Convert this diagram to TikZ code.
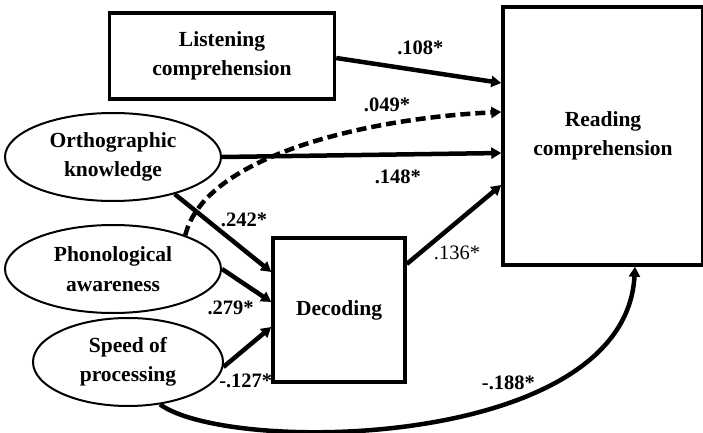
\documentclass[tikz,border=0pt]{standalone}
\usepackage{fontspec}
\setmainfont{Liberation Serif}
\usetikzlibrary{arrows.meta,positioning,shapes.geometric,calc}

\begin{document}
\begin{tikzpicture}[x=1pt, y=-1pt,
  box/.style={rectangle, draw, line width=3.5pt, align=center, font=\bfseries\fontsize{21.5}{29.5}\selectfont},
  latent/.style={ellipse, draw, line width=2pt, minimum width=216pt, minimum height=88pt, inner sep=0pt, align=center, font=\bfseries\fontsize{21.5}{29.5}\selectfont},
  line/.style={draw, line width=4.5pt, -{Triangle[length=10pt, width=11pt]}},
  coef/.style={inner sep=0pt, font=\bfseries\fontsize{20.5}{24}\selectfont},
  coefplain/.style={inner sep=0pt, font=\fontsize{20.5}{24}\selectfont}]

  \useasboundingbox (0,0) rectangle (703,433);

  \node [box, minimum width=225pt, minimum height=86pt] (listen) at (222,56) {Listening\\comprehension};
  \node [latent] (ortho) at (113,157) {Orthographic\\knowledge};
  \node [latent, below=22pt of ortho] (phono) {Phonological\\awareness};
  \node [latent, minimum width=190pt, below=3pt of phono, xshift=15pt] (speed) {Speed of\\processing};
  \node [box, minimum width=132pt, minimum height=144pt] (decode) at (339,310) {Decoding};
  \node [box, minimum width=200pt, minimum height=258pt] (reading) at (603,136) {Reading\\comprehension};

  % entry points on the outcome boxes
  \coordinate (r1) at ([yshift=53pt]reading.west);
  \coordinate (r2) at ([yshift=24pt]reading.west);
  \coordinate (r3) at ([yshift=-17pt]reading.west);
  \coordinate (r4) at ([yshift=-49pt]reading.west);
  \coordinate (r5) at ([xshift=32pt]reading.south);
  \coordinate (d1) at ([yshift=38pt]decode.west);
  \coordinate (d2) at ([yshift=8pt]decode.west);
  \coordinate (d3) at ([yshift=-17pt]decode.west);

  \path [line] ([yshift=-2pt]listen.east) -- node[coef, pos=.51, yshift=23pt] (w1) {.108*} (r1);
  \path [line, dash pattern=on 10pt off 5pt] (phono.25) .. controls (205,155) and (370,118) .. node[coef, pos=.72, yshift=20pt] (w2) {.049*} (r2);
  \path [line] (ortho.east) -- node[coef, pos=.63, yshift=-22.5pt] (w3) {.148*} (r3);
  \path [line] (ortho.-31) -- node[coef, pos=.5, xshift=21pt, yshift=13pt] (w4) {.242*} (d1);
  \path [line] (phono.east) -- node[coef, pos=.5, xshift=-16pt, yshift=-22.5pt] (w5) {.279*} (d2);
  \path [line] (speed.-3) -- node[coef, pos=.3, xshift=8pt, yshift=-26pt] (w6) {-.127*} (d3);
  \path [line] ([yshift=46pt]decode.east) -- node[coefplain, pos=.5, xshift=3pt, yshift=-28.5pt] (w7) {.136*} (r4);
  \path [line] (speed.-53) .. controls (230,455) and (625,450) .. node[coef, pos=.65, xshift=-5pt, yshift=16pt] (w8) {-.188*} (r5);
\end{tikzpicture}
\end{document}
